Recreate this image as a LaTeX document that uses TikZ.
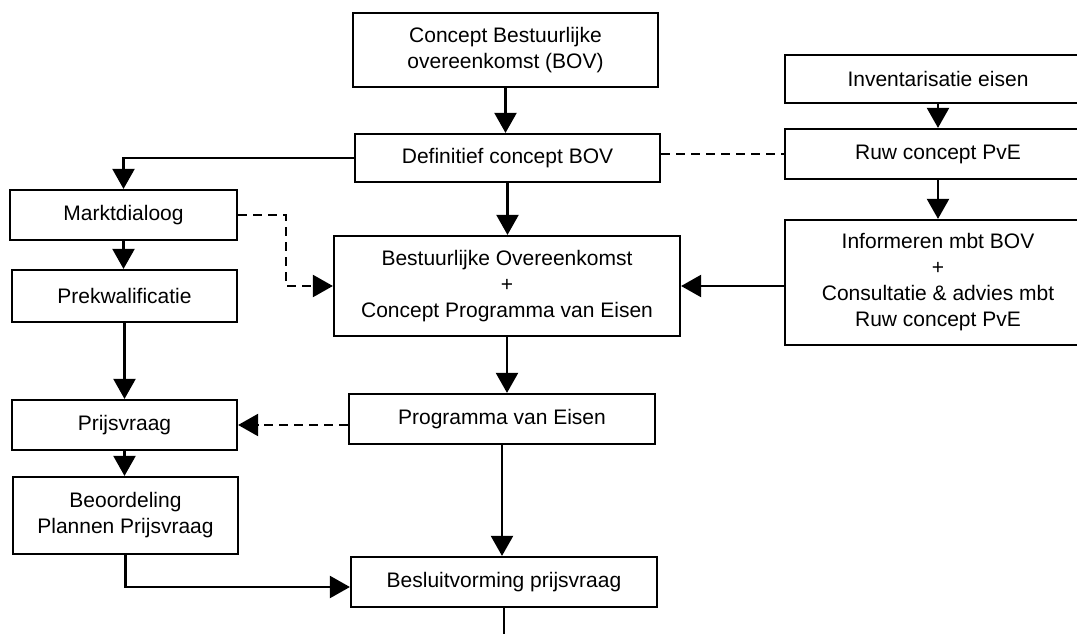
\documentclass[tikz,border=0pt]{standalone}
\usepackage{fontspec}
\setmainfont{Liberation Sans}
\usetikzlibrary{arrows.meta,positioning}

\tikzset{
	blok/.style={draw=black,line width=2.2pt,rectangle,align=center,inner sep=0pt,font=\fontsize{21}{26}\selectfont},
	pijl/.style={line width=2.2pt,-{Triangle[length=20pt,width=22pt]}},
	lijn/.style={line width=2.2pt},
	stippel/.style={line width=2.2pt,dash pattern=on 9pt off 6pt}
}

\begin{document}
\begin{tikzpicture}[x=1pt,y=-1pt]
	\useasboundingbox (0,0) rectangle (1077,634);
	\clip (0,0) rectangle (1077,634);
	%% middle column
	\node[blok,minimum width=305pt,minimum height=74pt] (cbov) at (505.5,50) {Concept Bestuurlijke\\overeenkomst (BOV)};
	\node[blok,minimum width=305pt,minimum height=48pt] (dbov) at (507.5,158) {Definitief concept BOV};
	\node[blok,minimum width=346pt,minimum height=100pt] (bo) at (507,286) {Bestuurlijke Overeenkomst\\+\\Concept Programma van Eisen};
	\node[blok,minimum width=306pt,minimum height=50pt] (pve) at (502,419) {Programma van Eisen};
	\node[blok,minimum width=306pt,minimum height=50pt] (besl) at (504,582) {Besluitvorming prijsvraag};
	%% left column
	\node[blok,minimum width=227pt,minimum height=50pt] (markt) at (123.5,215) {Marktdialoog};
	\node[blok,minimum width=225pt,minimum height=52pt] (prek) at (124.5,296) {Prekwalificatie};
	\node[blok,minimum width=225pt,minimum height=50pt] (prijs) at (124.5,425) {Prijsvraag};
	\node[blok,minimum width=225pt,minimum height=77pt] (beoord) at (125.5,515.5) {Beoordeling\\Plannen Prijsvraag};
	%% right column
	\node[blok,minimum width=306pt,minimum height=48pt] (inv) at (938,79) {Inventarisatie eisen};
	\node[blok,minimum width=306pt,minimum height=50pt] (ruw) at (938,154) {Ruw concept PvE};
	\node[blok,minimum width=306pt,minimum height=125pt] (info) at (938,282.5) {Informeren mbt BOV\\+\\Consultatie \& advies mbt\\Ruw concept PvE};
	\coordinate (uit) at (504,640);

	% the connectors
	\draw[pijl] (cbov.south) -- (cbov.south |- dbov.north);
	\draw[pijl] (dbov.south) -- (dbov.south |- bo.north);
	\draw[pijl] (bo.south) -- (bo.south |- pve.north);
	\draw[pijl] (pve.south) -- (pve.south |- besl.north);
	\draw[lijn] (besl.south) -- (uit);
	\draw[pijl] (dbov.west) -| (markt.north);
	\draw[pijl] (markt.south) -- (markt.south |- prek.north);
	\draw[pijl] (prek.south) -- (prek.south |- prijs.north);
	\draw[pijl] (prijs.south) -- (prijs.south |- beoord.north);
	\draw[pijl] (beoord.south) |- ([yshift=-5pt]besl.west);
	\draw[pijl] (inv.south) -- (inv.south |- ruw.north);
	\draw[pijl] (ruw.south) -- (ruw.south |- info.north);
	\draw[pijl] (bo.east -| info.west) -- (bo.east);
	%% dashed ones
	\draw[stippel] (ruw.west -| dbov.east) -- (ruw.west);
	\draw[stippel,pijl] (markt.east) -- ++(48,0) |- (bo.west);
	\draw[stippel,pijl] (prijs.east -| pve.west) -- (prijs.east);
\end{tikzpicture}
\end{document}
